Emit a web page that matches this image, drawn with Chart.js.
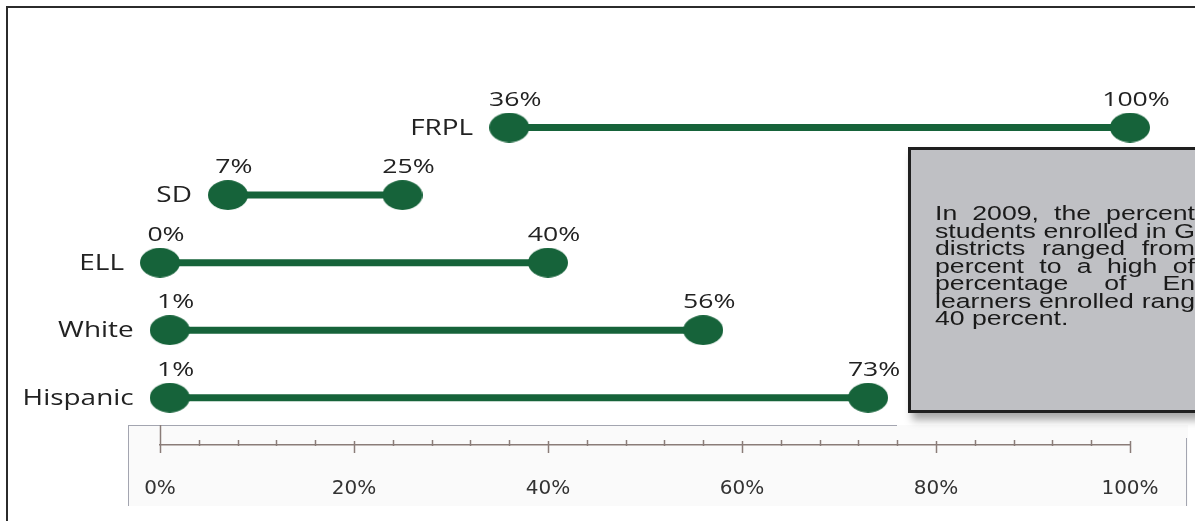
<!DOCTYPE html>
<html>
<head>
<meta charset="utf-8">
<script src="https://cdn.jsdelivr.net/npm/chart.js@4"></script>
<style>
  html, body { margin: 0; padding: 0; background: #fff; }
  #page { position: relative; width: 1195px; height: 521px; overflow: hidden; }
  #frame { position: absolute; left: 6px; top: 6px; width: 1400px; height: 700px; border: 2px solid #2b2b2b; }
  #axisbox { position: absolute; left: 128px; top: 425px; width: 1059px; height: 81px; background: #fafafa; border-left: 1px solid #a3a5b0; }
  #axistop { position: absolute; left: 128px; top: 425px; width: 769px; height: 1px; background: #a3a5b0; }
  #axisright { position: absolute; left: 1186px; top: 438px; width: 1px; height: 68px; background: #a3a5b0; }
  #wrap { position: absolute; left: 0; top: 0; width: 1195px; height: 521px; }
  #note { position: absolute; left: 908px; top: 147px; width: 400px; height: 260px; background: #bfc0c4;
          border: 3px solid #1f1f1f; box-shadow: 4px 7px 8px rgba(0,0,0,0.35); }
  #notetext { position: absolute; left: 935px; top: 204px; transform: scaleX(1.3); transform-origin: 0 0;
              font: 20.5px "Liberation Sans", Arial, sans-serif; line-height: 17.5px; color: #1a1a1a; }
  #notetext div { width: 200px; text-align: justify; text-align-last: justify; white-space: nowrap; }
  #notetext div.last { text-align-last: left; }
</style>
</head>
<body>
<div id="page">
  <div id="frame"></div>
  <div id="axisbox"></div>
  <div id="axistop"></div>
  <div id="axisright"></div>
  <div id="wrap"><canvas id="myChart"></canvas></div>
  <div id="note"></div>
  <div id="notetext">
    <div>In 2009, the percent</div>
    <div>students enrolled in G</div>
    <div>districts ranged from</div>
    <div>percent to a high of</div>
    <div>percentage of En</div>
    <div>learners enrolled rang</div>
    <div class="last">40 percent.</div>
  </div>
</div>
<script>
var categories = ['FRPL', 'SD', 'ELL', 'White', 'Hispanic'];
var lowValues = [36, 7, 0, 1, 1];
var highValues = [100, 25, 40, 56, 73];
var tickLabels = ['0%', '20%', '40%', '60%', '80%', '100%'];

var green = '#16633a';
var stretch = 1.33;

// oval marker, the source picture is stretched sideways
var dot = document.createElement('canvas');
dot.width = 40; dot.height = 30;
var dctx = dot.getContext('2d');
dctx.fillStyle = green;
dctx.beginPath();
dctx.ellipse(20, 15, 20, 15, 0, 0, Math.PI * 2);
dctx.fill();

var datasets = categories.map(function(cat, i){
  return {
    label: cat,
    data: [{x: lowValues[i], y: i}, {x: highValues[i], y: i}],
    borderColor: green,
    backgroundColor: green,
    borderWidth: 7,
    pointStyle: dot,
    pointRadius: 20,
    clip: false
  };
});

function wideText(ctx, text, x, y, align){
  ctx.save();
  ctx.translate(x, y);
  ctx.scale(stretch, 1);
  ctx.textAlign = align;
  ctx.fillText(text, 0, 0);
  ctx.restore();
}

var rowLabels = {
  id: 'rowLabels',
  afterDatasetsDraw: function(chart){
    var ctx = chart.ctx, xs = chart.scales.x, ys = chart.scales.y;
    ctx.fillStyle = '#222';
    ctx.textBaseline = 'alphabetic';
    categories.forEach(function(cat, i){
      var y = ys.getPixelForValue(i);
      var xl = xs.getPixelForValue(lowValues[i]);
      var xh = xs.getPixelForValue(highValues[i]);
      ctx.font = '21px "Open Sans"';
      wideText(ctx, cat, xl - 36, y + 7, 'right');
      ctx.font = '20px "Open Sans"';
      wideText(ctx, lowValues[i] + '%', xl + 6, y - 22, 'center');
      wideText(ctx, highValues[i] + '%', xh + 6, y - 22, 'center');
    });
  }
};

var axisTicks = {
  id: 'axisTicks',
  afterDraw: function(chart){
    var ctx = chart.ctx, xs = chart.scales.x;
    var y = chart.chartArea.bottom;
    ctx.save();
    ctx.strokeStyle = '#8a7c78';
    ctx.lineWidth = 1.5;
    xs.ticks.forEach(function(t){
      var px = Math.round(xs.getPixelForValue(t.value)) + 0.5;
      var top = y - 5, bot = y + 1;
      if (t.value === 0) { top = y - 20; bot = y + 8; }
      else if (t.value % 20 === 0) { top = y - 4; bot = y + 8; }
      ctx.beginPath();
      ctx.moveTo(px, top);
      ctx.lineTo(px, bot);
      ctx.stroke();
    });
    ctx.restore();
  }
};

var ctx = document.getElementById('myChart').getContext('2d');
var myChart = new Chart(ctx, {
  type: 'line',
  data: { datasets: datasets },
  options: {
    responsive: true,
    maintainAspectRatio: false,
    animation: false,
    events: [],
    layout: { padding: { left: 160, right: 65, top: 60, bottom: 0 } },
    plugins: { legend: { display: false }, tooltip: { enabled: false } },
    scales: {
      x: {
        type: 'linear',
        min: 0,
        max: 100,
        afterFit: function(s){ s.height = 76; },
        grid: { display: false, drawTicks: false },
        border: { display: true, color: '#8a7c78', width: 1.5 },
        ticks: {
          stepSize: 4,
          autoSkip: false,
          maxRotation: 0,
          padding: 32,
          color: '#333',
          font: { family: 'DejaVu Sans', size: 20 },
          callback: function(v){ return v % 20 === 0 ? tickLabels[v / 20] : ''; }
        }
      },
      y: {
        type: 'linear',
        display: false,
        reverse: true,
        min: -1,
        max: 4.7
      }
    }
  },
  plugins: [rowLabels, axisTicks]
});
</script>
</body>
</html>
